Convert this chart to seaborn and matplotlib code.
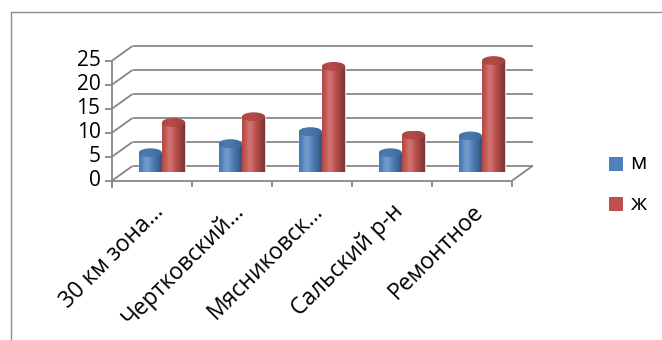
import numpy as np
import pandas as pd
import matplotlib
matplotlib.use("Agg")
import matplotlib.pyplot as plt
import seaborn as sns
from matplotlib.patches import Ellipse, Polygon, Rectangle
from matplotlib.lines import Line2D
from matplotlib.colors import to_rgb

# ---- data ----
categories = ["30 км зона...", "Чертковский...", "Мясниковск...", "Сальский р-н", "Ремонтное"]
series = ["м", "ж"]
male = [4.0, 5.9, 8.4, 4.0, 7.5]
female = [10.3, 11.5, 22.0, 7.7, 23.2]
y_ticks = [0, 5, 10, 15, 20, 25]
colors = ["#4F81BD", "#C0504D"]

df = pd.DataFrame({
    "район": categories * 2,
    "пол": [series[0]] * len(categories) + [series[1]] * len(categories),
    "значение": male + female,
})

sns.set_theme(style="white")
plt.rcParams["font.family"] = ["Open Sans", "DejaVu Sans"]

W, H = 662, 340
fig = plt.figure(figsize=(W / 100, H / 100), dpi=100)

# plane through the middle of the cylinders (pixel geometry of the 3-D box)
PX_X = 80.0          # pixels per category
PX_Y = 4.8           # pixels per unit of value
ZERO_TOP = 172       # zero level of the cylinders, pixels from the top
LEFT = 122           # left edge of the middle plane, pixels
ax = fig.add_axes([LEFT / W, (H - ZERO_TOP) / H, 5 * PX_X / W, 25 * PX_Y / H])

sns.barplot(data=df, x="район", y="значение", hue="пол", palette=colors,
            width=0.58, saturation=1, errorbar=None, legend=False, ax=ax)
ax.axis("off")

# depth offsets of the front and back planes (pixels, y upwards)
FRONT = (-10.0, -8.7)
BACK = (10.5, 6.0)


def shift(x, y, off):
    return x + off[0] / PX_X, y + off[1] / PX_Y


grid_kw = dict(color="#878787", lw=1.3, clip_on=False, zorder=0.5, solid_capstyle="butt")
x0, x1 = -0.5, len(categories) - 0.5
for v in y_ticks:
    bx0, by = shift(x0, v, BACK)
    bx1, _ = shift(x1, v, BACK)
    fx, fy = shift(x0, v, FRONT)
    ax.plot([bx0, bx1], [by, by], **grid_kw)          # back wall line
    ax.plot([fx, bx0], [fy, by], **grid_kw)           # side wall line
    tx, _ = shift(x0, v, (FRONT[0] - 7.5, FRONT[1]))
    ax.plot([tx, fx], [fy, fy], **grid_kw)            # tick on the value axis
    lx, _ = shift(x0, v, (FRONT[0] - 11.5, FRONT[1]))
    ax.text(lx, fy, str(v), ha="right", va="center", fontsize=15, color="#000000",
            clip_on=False)

# value axis line on the front edge
fx, fy0 = shift(x0, 0, FRONT)
_, fy1 = shift(x0, y_ticks[-1], FRONT)
ax.plot([fx, fx], [fy0 - 7 / PX_Y, fy1], **grid_kw)

# floor: front edge, right edge and category ticks
fx0, fy = shift(x0, 0, FRONT)
fx1, _ = shift(x1, 0, FRONT)
bx1, by = shift(x1, 0, BACK)
ax.plot([fx0, fx1], [fy, fy], **grid_kw)
ax.plot([fx1, bx1], [fy, by], **grid_kw)
for i in range(len(categories) + 1):
    tx, _ = shift(i - 0.5, 0, FRONT)
    ax.plot([tx, tx], [fy, fy - 6 / PX_Y], **grid_kw)

# category labels
for i, name in enumerate(categories):
    lx, ly = shift(i, 0, (FRONT[0] + 8, -36))
    ax.text(lx, ly, name, rotation=45, rotation_mode="anchor", ha="right",
            va="center", fontsize=16.5, color="#000000", clip_on=False)


# ---- cylinder shading ----
def shade(base, f):
    c = np.array(to_rgb(base))
    f = np.asarray(f)[:, None]
    dark = c * f
    light = c + (1 - c) * (f - 1)
    return np.where(f > 1, light, dark)


t = np.linspace(0, 1, 96)
body_f = (0.90 + 0.30 * np.exp(-((t - 0.33) / 0.22) ** 2)
          - 0.30 * np.clip((t - 0.55) / 0.45, 0, 1) ** 1.5)
cap_f = 0.84 + 0.10 * np.exp(-((t - 0.35) / 0.3) ** 2)

EH = 9.0 / PX_Y   # ellipse height of the cylinder ends, in value units
for bar in list(ax.patches):
    if not isinstance(bar, Rectangle) or bar.get_height() <= 0:
        continue
    bx, bw, bh = bar.get_x(), bar.get_width(), bar.get_height()
    cx = bx + bw / 2
    base = bar.get_facecolor()
    bar.set_zorder(2)
    # body outline: rectangle with a rounded (half-ellipse) bottom
    ang = np.linspace(np.pi, 2 * np.pi, 40)
    arc = np.column_stack([cx + bw / 2 * np.cos(ang), EH / 2 * np.sin(ang)])
    verts = np.vstack([[bx, bh], arc, [bx + bw, bh]])
    body = Polygon(verts, closed=True, facecolor="none", edgecolor="none",
                   transform=ax.transData)
    ax.add_patch(body)
    img = shade(base, body_f)[None, :, :]
    im = ax.imshow(img, extent=[bx, bx + bw, -EH / 2, bh], aspect="auto",
                   origin="lower", zorder=3, interpolation="bilinear")
    im.set_clip_path(body)
    # top cap
    cap = Ellipse((cx, bh), bw, EH, facecolor="none", edgecolor="none",
                  transform=ax.transData)
    ax.add_patch(cap)
    capimg = shade(base, cap_f)[None, :, :]
    im2 = ax.imshow(capimg, extent=[bx, bx + bw, bh - EH / 2, bh + EH / 2],
                    aspect="auto", origin="lower", zorder=4, interpolation="bilinear")
    im2.set_clip_path(cap)

ax.set_xlim(x0, x1)
ax.set_ylim(0, y_ticks[-1])

# ---- legend ----
leg_y = [164, 204]
for name, col, yc in zip(series, colors, leg_y):
    fig.add_artist(Rectangle((609 / W, (H - yc - 7) / H), 14 / W, 14 / H,
                             transform=fig.transFigure, facecolor=col, edgecolor="none"))
    fig.text(630 / W, (H - yc) / H, name, ha="left", va="center", fontsize=16,
             color="#000000")

# ---- chart border ----
border_kw = dict(color="#8c8c8c", lw=1.0, transform=fig.transFigure)
fig.add_artist(Line2D([11 / W, 11 / W], [0, (H - 11.5) / H], **border_kw))
fig.add_artist(Line2D([11 / W, 1], [(H - 11.5) / H, (H - 11.5) / H], **border_kw))

fig.savefig("out.png", dpi=100, facecolor="white")
